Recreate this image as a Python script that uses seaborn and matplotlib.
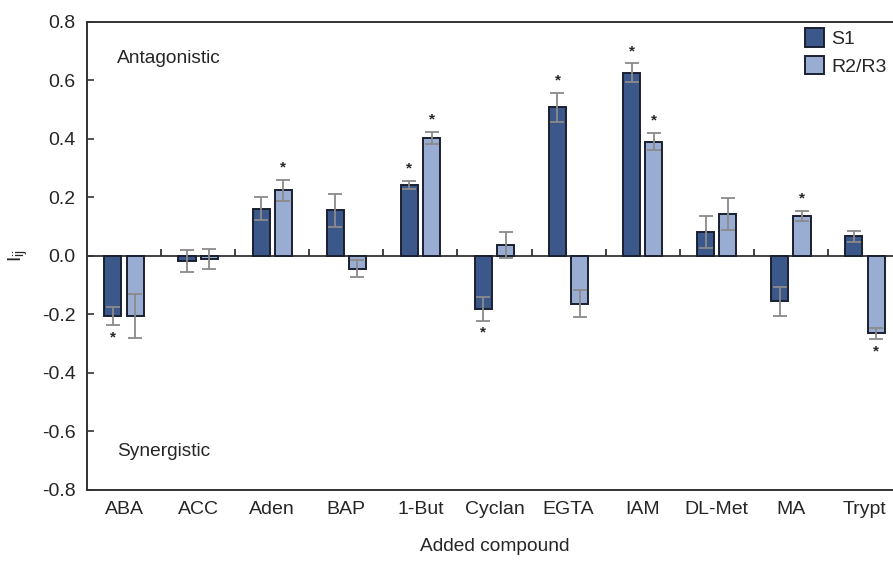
import numpy as np
import pandas as pd
import matplotlib
matplotlib.use('Agg')
import matplotlib.pyplot as plt
import seaborn as sns

# values
compounds = ['ABA', 'ACC', 'Aden', 'BAP', '1-But', 'Cyclan', 'EGTA', 'IAM', 'DL-Met', 'MA', 'Trypt']
s1_vals = [-0.205, -0.017, 0.162, 0.156, 0.242, -0.180, 0.508, 0.627, 0.082, -0.155, 0.068]
s1_err = [0.031, 0.038, 0.038, 0.056, 0.014, 0.041, 0.050, 0.031, 0.055, 0.050, 0.019]
r2_vals = [-0.205, -0.010, 0.224, -0.043, 0.404, 0.037, -0.163, 0.391, 0.143, 0.137, -0.265]
r2_err = [0.075, 0.033, 0.037, 0.028, 0.020, 0.044, 0.047, 0.030, 0.055, 0.018, 0.020]
s1_star = [True, False, False, False, True, True, True, True, False, False, False]
r2_star = [False, False, True, False, True, False, False, True, False, True, True]
groups = ['S1', 'R2/R3']
colors = ['#2f5597', '#8eaadb']
yticks = [-0.8, -0.6, -0.4, -0.2, 0.0, 0.2, 0.4, 0.6, 0.8]
ytick_labels = ['-0.8', '-0.6', '-0.4', '-0.2', '0.0', '0.2', '0.4', '0.6', '0.8']

df = pd.DataFrame({
    'compound': compounds * 2,
    'value': s1_vals + r2_vals,
    'err': s1_err + r2_err,
    'star': s1_star + r2_star,
    'group': [groups[0]] * len(compounds) + [groups[1]] * len(compounds),
})

sns.set_style('ticks')
plt.rcParams['font.family'] = ['Liberation Sans', 'DejaVu Sans']

fig = plt.figure(figsize=(8.93, 5.63), dpi=100)
ax = fig.add_axes([0.0974, 0.1297, 0.9127, 0.8313])

sns.barplot(data=df, x='compound', y='value', hue='group', palette=colors,
            errorbar=None, width=0.6, gap=0.23, edgecolor='#1a2030',
            linewidth=1.4, ax=ax, zorder=2)

# error bars and significance stars, placed from the bar patches
for cont, grp in zip(ax.containers, groups):
    sub = df[df['group'] == grp].reset_index(drop=True)
    for bar, (_, row) in zip(cont, sub.iterrows()):
        xc = bar.get_x() + bar.get_width() / 2
        ax.errorbar(xc, row['value'], yerr=row['err'], color='#8a8a8a',
                    capsize=5, elinewidth=1.3, capthick=1.3, zorder=3)
        if row['star']:
            sign = 1 if row['value'] >= 0 else -1
            ypos = row['value'] + sign * (row['err'] + 0.042)
            ax.text(xc, ypos, '*', ha='center', va='center', fontsize=11,
                    fontweight='bold', zorder=4)

ax.axhline(0, color='#333333', lw=1.3, zorder=1)
ax.vlines(np.arange(len(compounds) - 1) + 0.5, 0, 0.025, color='#333333', lw=1.3)

ax.set_xlim(-0.5, len(compounds) - 0.5)
ax.set_ylim(-0.8, 0.8)
ax.set_yticks(yticks)
ax.set_yticklabels(ytick_labels)
ax.tick_params(axis='y', direction='in', length=5, width=1.2, pad=8,
               labelsize=14, color='#333333')
ax.tick_params(axis='x', length=0, pad=8, labelsize=14)

for side in ['left', 'top', 'bottom', 'right']:
    ax.spines[side].set_color('#333333')
    ax.spines[side].set_linewidth(1.4)

ax.set_xlabel('Added compound', fontsize=13.8, labelpad=14)
ax.set_ylabel('$\\mathregular{I_{ij}}$', fontsize=14)
ax.yaxis.set_label_coords(-0.07, 0.5)

ax.text(0.037, 0.921, 'Antagonistic', transform=ax.transAxes, fontsize=13.8,
        va='center', ha='left')
ax.text(0.037, 0.083, 'Synergistic', transform=ax.transAxes, fontsize=13.8,
        va='center', ha='left')

handles, labels = ax.get_legend_handles_labels()
ax.legend(handles, labels, loc='upper left', bbox_to_anchor=(0.881, 0.987),
          borderaxespad=0, borderpad=0, frameon=False, fontsize=14,
          handlelength=1.0, handleheight=1.1, handletextpad=0.35,
          labelspacing=0.4)

fig.savefig('out.png', dpi=100)
